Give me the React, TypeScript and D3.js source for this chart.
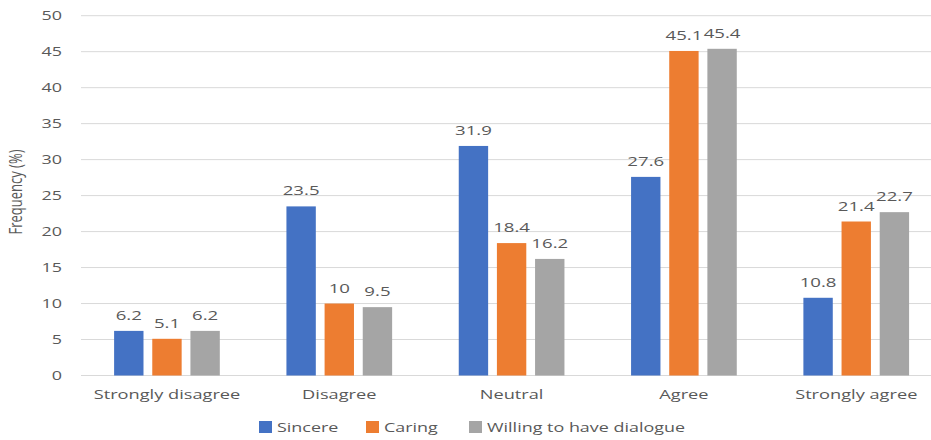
import React from "react";
import * as d3 from "d3";

const categories = ["Strongly disagree", "Disagree", "Neutral", "Agree", "Strongly agree"];
const seriesNames = ["Sincere", "Caring", "Willing to have dialogue"];
const sincere = [6.2, 23.5, 31.9, 27.6, 10.8];
const caring = [5.1, 10, 18.4, 45.1, 21.4];
const willing = [6.2, 9.5, 16.2, 45.4, 22.7];
const yTicks = [0, 5, 10, 15, 20, 25, 30, 35, 40, 45, 50];
const colors = ["#4472C4", "#ED7D31", "#A5A5A5"];

const W = 931;
const H = 440;
const SX = 1.38;
const FONT = "'Open Sans', sans-serif";
const TXT = "#595959";

export default function App() {
  const series = [sincere, caring, willing];
  const x = d3.scaleBand<string>().domain(categories).range([80.8, 942.4]).padding(0);
  const inner = d3.scaleBand<string>().domain(seriesNames).range([0, 105.7]).paddingInner(0.23).paddingOuter(0);
  const y = d3.scaleLinear().domain([0, 50]).range([375.5, 15.7]);
  const groupOff = (x.bandwidth() - 105.7) / 2;

  const T = (props: { x: number; y: number; anchor?: string; size?: number; children: React.ReactNode }) => (
    <text
      transform={`translate(${props.x},${props.y}) scale(${SX},1)`}
      textAnchor={props.anchor || "middle"}
      fontSize={props.size || 13}
      fontFamily={FONT}
      fill={TXT}
    >
      {props.children}
    </text>
  );

  const legendItems = [
    { name: seriesNames[0], x: 259 },
    { name: seriesNames[1], x: 366 },
    { name: seriesNames[2], x: 469 },
  ];

  return (
    <svg width={W} height={H} style={{ position: "absolute", left: 0, top: 0, background: "#fff" }}>
      {yTicks.map((t) => (
        <g key={t}>
          <line x1={81} x2={W} y1={y(t)} y2={y(t)} stroke="#D9D9D9" strokeWidth={1} />
          <T x={62} y={y(t) + 4.5} anchor="end" size={13}>{t}</T>
        </g>
      ))}
      <text
        transform={`translate(22,192) rotate(-90) scale(1,${SX})`}
        textAnchor="middle"
        fontSize={13}
        fontFamily={FONT}
        fill={TXT}
      >
        Frequency (%)
      </text>
      {categories.map((c, ci) => (
        <g key={c}>
          {series.map((s, si) => {
            const bx = (x(c) as number) + groupOff + (inner(seriesNames[si]) as number);
            return (
              <g key={si}>
                <rect x={bx} y={y(s[ci])} width={inner.bandwidth()} height={y(0) - y(s[ci])} fill={colors[si]} />
                <T x={bx + inner.bandwidth() / 2} y={y(s[ci]) - 11} size={13.5}>{s[ci]}</T>
              </g>
            );
          })}
          <T x={(x(c) as number) + x.bandwidth() / 2} y={399} size={13.2}>{c}</T>
        </g>
      ))}
      {legendItems.map((l, i) => (
        <g key={l.name}>
          <rect x={l.x} y={421} width={13} height={12} fill={colors[i]} />
          <T x={l.x + 18} y={432} anchor="start" size={13}>{l.name}</T>
        </g>
      ))}
    </svg>
  );
}
